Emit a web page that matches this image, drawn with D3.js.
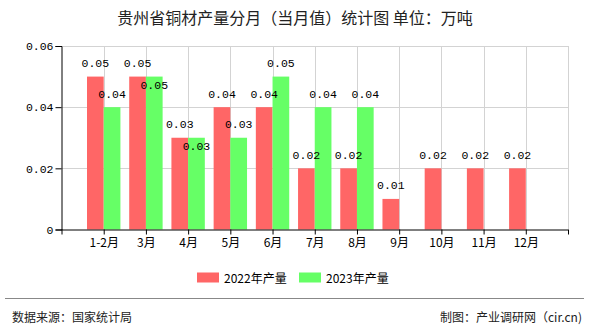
<!DOCTYPE html>
<html><head><meta charset="utf-8">
<script src="https://cdn.jsdelivr.net/npm/d3@7/dist/d3.min.js"></script>
<style>body{margin:0;background:#fff}svg{display:block}</style>
</head><body>
<svg id="c" width="590" height="330"></svg>
<script>
const categories = ["1-2月","3月","4月","5月","6月","7月","8月","9月","10月","11月","12月"];
const series2022 = [0.05,0.05,0.03,0.04,0.04,0.02,0.02,0.01,0.02,0.02,0.02];
const series2023 = [0.04,0.05,0.03,0.03,0.05,0.04,0.04,null,null,null,null];
const yTicks = [0,0.02,0.04,0.06];
const seriesNames = ["2022年产量","2023年产量"];
const colors = ["#ff6666","#66ff66"];

(function(){
const svg = d3.select("#c");
const cjk = "'Noto Sans CJK SC', sans-serif";
const mono = "'Liberation Mono', monospace";

const pL = 61.5, pR = 568, pT = 46, pB = 229.5;
const slots = ["_s", ...categories, "_e"];
const x = d3.scalePoint().domain(slots).range([pL, pR]);
const barW = 16.7;
const y = d3.scaleLinear().domain([0,0.06]).range([pB, pT]);

// title
svg.append("text").attr("x",295).attr("y",17).attr("text-anchor","middle")
  .attr("dominant-baseline","central").style("font-family",cjk).style("font-size","16px")
  .attr("fill","#222").text("贵州省铜材产量分月（当月值）统计图 单位：万吨");

// grid
const g = svg.append("g");
g.selectAll(".hg").data(yTicks.slice(1)).join("line")
  .attr("x1",pL).attr("x2",pR).attr("y1",d=>Math.round(y(d))+0.5).attr("y2",d=>Math.round(y(d))+0.5)
  .attr("stroke","#d3d3d3").attr("stroke-width",1);
g.selectAll(".vg").data(slots.slice(1)).join("line")
  .attr("x1",d=>Math.round(x(d))+0.5).attr("x2",d=>Math.round(x(d))+0.5).attr("y1",pT).attr("y2",pB)
  .attr("stroke","#d3d3d3").attr("stroke-width",1);

// bars
[series2022, series2023].forEach((s, si) => {
  svg.append("g").selectAll("rect").data(s.map((v,i)=>({v,c:categories[i]})).filter(d=>d.v!=null))
    .join("rect")
    .attr("x", d => si===0 ? x(d.c)-barW : x(d.c))
    .attr("width", barW)
    .attr("y", d => y(d.v))
    .attr("height", d => pB - y(d.v))
    .attr("fill", colors[si]);
});

// labels
[series2022, series2023].forEach((s, si) => {
  svg.append("g").selectAll("text").data(s.map((v,i)=>({v,i,c:categories[i]})).filter(d=>d.v!=null))
    .join("text")
    .attr("x", d => si===0 ? x(d.c)-barW/2 : x(d.c)+barW/2)
    .attr("y", d => {
      const overlap = si===1 && series2022[d.i]===d.v;
      return overlap ? y(d.v)+8.5 : y(d.v)-13;
    })
    .attr("text-anchor","middle").attr("dominant-baseline","central")
    .style("font-family",mono).style("font-size","11.5px").attr("fill","#000")
    .text(d => d.v.toFixed(2));
});

// y axis
const ya = svg.append("g").attr("transform",`translate(${pL},0)`)
  .call(d3.axisLeft(y).tickValues(yTicks).tickSize(6).tickPadding(2)
    .tickFormat(d => d===0 ? "0" : d.toFixed(2)));
ya.select(".domain").attr("stroke","#000");
ya.selectAll(".tick line").attr("stroke","#000");
ya.selectAll("text").style("font-family",mono).style("font-size","11.5px").attr("fill","#000");

// x axis
const xa = svg.append("g").attr("transform",`translate(0,${pB})`)
  .call(d3.axisBottom(x).tickSize(5).tickSizeOuter(0).tickPadding(4)
    .tickFormat(d => d.startsWith("_") ? "" : d));
xa.select(".domain").attr("stroke","#000").attr("d",`M${pL},0.5H${pR}`);
xa.selectAll(".tick line").attr("stroke","#000");
xa.selectAll("text").style("font-family",cjk).style("font-size","12px").attr("fill","#000");

// legend
const lg = svg.append("g");
const legX = [197, 299];
seriesNames.forEach((n,i) => {
  lg.append("rect").attr("x",legX[i]).attr("y",272.5).attr("width",22).attr("height",10).attr("fill",colors[i]);
  lg.append("text").attr("x",legX[i]+27).attr("y",277.5).attr("dominant-baseline","central")
    .style("font-family",cjk).style("font-size","12px").attr("fill","#000").text(n);
});

// footer
svg.append("line").attr("x1",5).attr("x2",584).attr("y1",298.5).attr("y2",298.5).attr("stroke","#888");
svg.append("text").attr("x",12).attr("y",316).attr("dominant-baseline","central")
  .style("font-family",cjk).style("font-size","12px").attr("fill","#222").text("数据来源：国家统计局");
svg.append("text").attr("x",582).attr("y",316).attr("text-anchor","end").attr("dominant-baseline","central")
  .style("font-family",cjk).style("font-size","12px").attr("fill","#222").text("制图：产业调研网（cir.cn)");
})();
</script>
</body></html>
